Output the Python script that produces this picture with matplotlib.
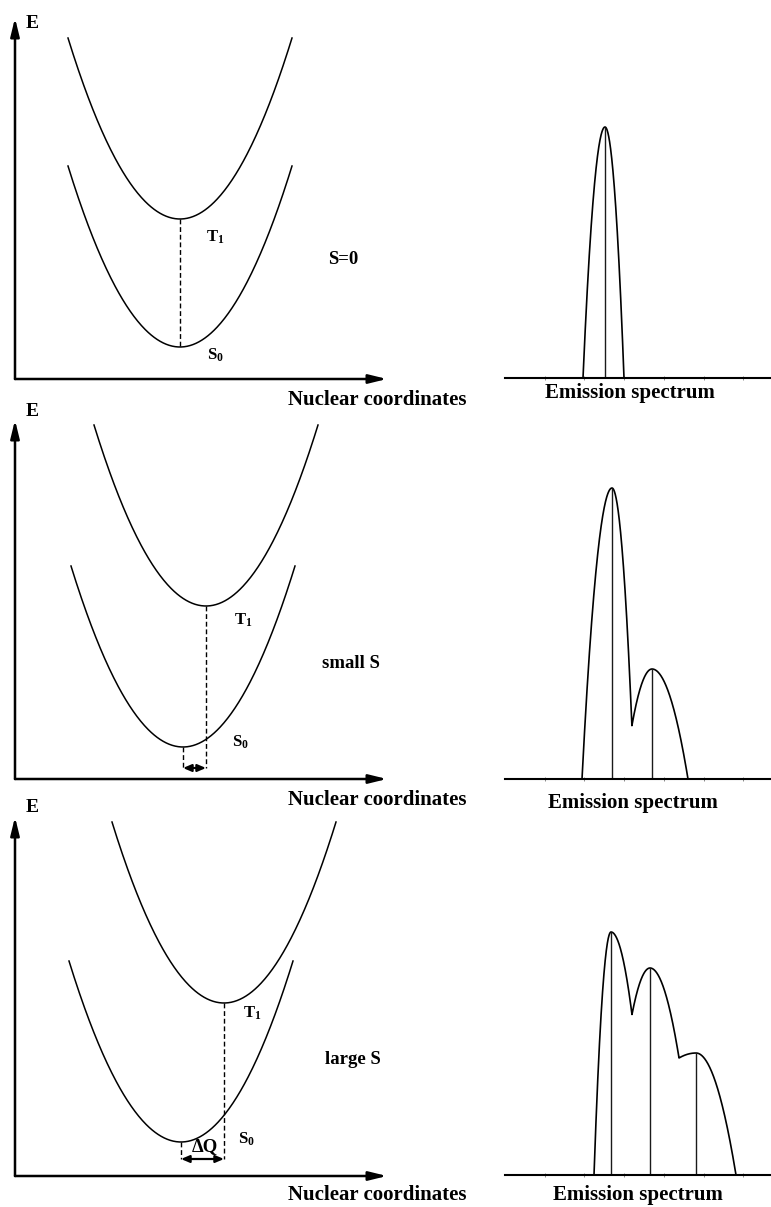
import numpy as np
import matplotlib
matplotlib.use("Agg")
import matplotlib.pyplot as plt

plt.rcParams['font.family'] = ['Liberation Serif', 'DejaVu Serif']
plt.rcParams['font.weight'] = 'bold'
plt.rcParams['mathtext.fontset'] = 'custom'
plt.rcParams['mathtext.rm'] = 'Liberation Serif:bold'
plt.rcParams['mathtext.bf'] = 'Liberation Serif:bold'
plt.rcParams['mathtext.it'] = 'Liberation Serif:bold'

# ---------------- data ----------------
row_labels = ["S=0", "small S", "large S"]
# potential-well minima (nuclear coordinate Q, energy E) in diagram units
t1_min_q = [165, 191, 209]
t1_min_e = [160, 173, 173]
s0_min_q = [165, 168, 166]
s0_min_e = [32, 32, 34]
well_halfwidth = 112
well_rise = 181
show_dq = [False, True, True]
dq_label = ["", "", "ΔQ"]

# emission spectra: peak positions, heights, left/right half widths
peak_pos = [[100], [107, 147], [106, 145, 191]]
peak_height = [[251], [291, 110], [243, 207, 122]]
peak_wl = [[22], [30, 28], [17, 38, 84]]
peak_wr = [[19], [22, 36], [36, 44, 40]]

# ---------------- layout ----------------
W, H = 771, 1207
fig = plt.figure(figsize=(W / 100, H / 100), dpi=100)

def px_axes(x0, y0, x1, y1):
    ax = fig.add_axes([x0 / W, 1 - y1 / H, (x1 - x0) / W, (y1 - y0) / H])
    ax.set_xlim(0, x1 - x0)
    ax.set_ylim(0, y1 - y0)
    ax.axis('off')
    return ax

energy_base = [379, 779, 1176]
axis_top = [361, 359, 359]
e_label_y = [356, 367, 368]
t1_lab = [(200, 142), (228, 159), (237, 163)]
s0_lab = [(200, 24), (225, 37), (231, 37)]
row_lab = [(328, 119), (336, 116), (338, 116)]
arrow_y = [0, 11, 17]
nc_lab_y = [-21, -21, -19]
spec_base = [378, 779, 1175]
spec_lab_y = [-15, -24, -20]
spec_lab_x = [125, 128, 133]

FS_BIG = 15
FS_MID = 13.5
FS_SMALL = 12

axis_arrow = dict(arrowstyle='-|>,head_length=0.9,head_width=0.22',
                  mutation_scale=12, lw=1.8, color='k', shrinkA=0, shrinkB=0)
dq_arrow = dict(arrowstyle='<|-|>,head_length=0.7,head_width=0.3',
                mutation_scale=7, lw=1.6, color='k', shrinkA=0, shrinkB=0)

for r in range(3):
    b = energy_base[r]
    ax = px_axes(15, b - 362, 390, b)
    ax.set_ylim(0, 362)
    # axes with arrows
    ax.annotate('', xy=(0, axis_top[r]), xytext=(0, 0), arrowprops=axis_arrow,
                annotation_clip=False)
    ax.annotate('', xy=(372, 0), xytext=(0, 0), arrowprops=axis_arrow,
                annotation_clip=False)
    ax.text(17, e_label_y[r], "E", fontsize=14, fontweight='bold',
            ha='center', va='center', clip_on=False)
    ax.text(273, nc_lab_y[r], "Nuclear coordinates", fontsize=FS_BIG, fontweight='bold',
            ha='left', va='center', clip_on=False)

    q = np.linspace(-well_halfwidth, well_halfwidth, 300)
    ax.plot(t1_min_q[r] + q, t1_min_e[r] + well_rise * (q / well_halfwidth) ** 2,
            color='k', lw=1.1, clip_on=False)
    ax.plot(s0_min_q[r] + q, s0_min_e[r] + well_rise * (q / well_halfwidth) ** 2,
            color='k', lw=1.1, clip_on=False)

    dash = (0, (3.5, 2))
    if show_dq[r]:
        ax.plot([t1_min_q[r]] * 2, [t1_min_e[r], arrow_y[r]], color='k', lw=1.0, ls=dash)
        ax.plot([s0_min_q[r]] * 2, [s0_min_e[r], arrow_y[r]], color='k', lw=1.0, ls=dash)
        ax.annotate('', xy=(t1_min_q[r], arrow_y[r]), xytext=(s0_min_q[r], arrow_y[r]),
                    arrowprops=dq_arrow)
        if dq_label[r]:
            ax.text((t1_min_q[r] + s0_min_q[r]) / 2 + 2, arrow_y[r] + 12, dq_label[r],
                    fontsize=FS_MID, fontweight='bold', ha='center', va='center')
    else:
        ax.plot([t1_min_q[r]] * 2, [t1_min_e[r], s0_min_e[r]], color='k', lw=1.0, ls=dash)

    ax.text(*t1_lab[r], r"$\mathrm{T_1}$", fontsize=FS_SMALL, ha='center', va='center')
    ax.text(*s0_lab[r], r"$\mathrm{S_0}$", fontsize=FS_SMALL, ha='center', va='center')
    ax.text(*row_lab[r], row_labels[r], fontsize=FS_MID, fontweight='bold',
            ha='center', va='center')

    # ---- emission spectrum ----
    sb = spec_base[r]
    sx = px_axes(505, sb - 300, 771, sb)
    sx.axis('on')
    for s in ['left', 'right', 'top']:
        sx.spines[s].set_visible(False)
    sx.spines['bottom'].set_linewidth(1.5)
    sx.set_xticks(np.arange(39.7, 266, 39.7))
    sx.set_yticks([])
    sx.tick_params(axis='x', direction='inout', length=3, width=0.7,
                   color='0.55', labelbottom=False)
    sx.patch.set_alpha(0)

    c = np.array(peak_pos[r], float)
    h = np.array(peak_height[r], float)
    wl = np.array(peak_wl[r], float)
    wr = np.array(peak_wr[r], float)
    x = np.linspace((c - wl).min(), (c + wr).max(), 3000)
    env = np.zeros_like(x)
    for ci, hi, li, ri in zip(c, h, wl, wr):
        w = np.where(x < ci, li, ri)
        v = hi * (1 - ((x - ci) / w) ** 2)
        env = np.maximum(env, v)
    sx.plot(x, env, color='k', lw=1.2, clip_on=False)
    sx.vlines(c, 0, h, color='0.1', lw=1.0)
    sx.text(spec_lab_x[r], spec_lab_y[r], "Emission spectrum", fontsize=FS_BIG,
            fontweight='bold', ha='center', va='center', clip_on=False)

fig.savefig("out.png", dpi=100)
